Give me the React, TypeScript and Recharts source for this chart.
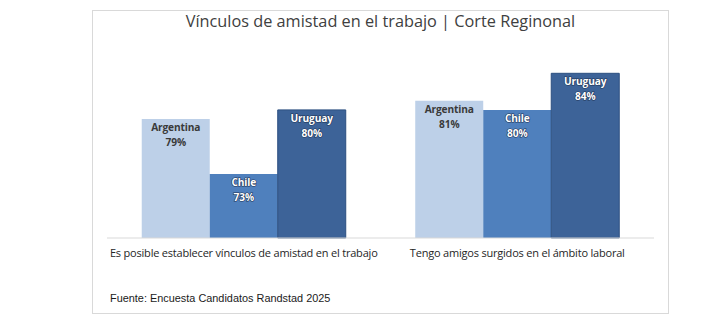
import React from "react";
import { BarChart, Bar, XAxis, YAxis, LabelList } from "recharts";

const categories = [
  "Es posible establecer vínculos de amistad en el trabajo",
  "Tengo amigos surgidos en el ámbito laboral",
];
const argentina = [0.79, 0.81];
const chile = [0.73, 0.8];
const uruguay = [0.8, 0.84];
const seriesNames = ["Argentina", "Chile", "Uruguay"];
const title = "Vínculos de amistad en el trabajo | Corte Reginonal";
const source = "Fuente: Encuesta Candidatos Randstad 2025";

const data = categories.map((c, i) => ({
  category: c,
  argentina: argentina[i],
  chile: chile[i],
  uruguay: uruguay[i],
}));

const CategoryTick = (props: any) => {
  const { x, y, payload } = props;
  return (
    <text
      x={x}
      y={y + 11}
      textAnchor="middle"
      fontFamily="'Open Sans', sans-serif"
      fontSize={11}
      fill="#262626"
      letterSpacing={-0.2}
    >
      {payload.value}
    </text>
  );
};

const makeLabel = (name: string, light: boolean) => (props: any) => {
  const { x, y, width, value } = props;
  const cx = x + width / 2;
  const common = {
    textAnchor: "middle" as const,
    fontFamily: "'Open Sans', sans-serif",
    fontWeight: 700,
    fontSize: 10.2,
    fill: light ? "#ffffff" : "#3a3a3a",
    stroke: light ? "#1f3556" : "none",
    strokeWidth: light ? 1.2 : 0,
    paintOrder: "stroke" as any,
    letterSpacing: -0.15,
  };
  return (
    <g>
      <text x={cx} y={y + 12} {...common}>
        {name}
      </text>
      <text x={cx} y={y + 27} {...common}>
        {Math.round(value * 100) + "%"}
      </text>
    </g>
  );
};

export default function App() {
  return (
    <div
      style={{
        position: "absolute",
        left: 0,
        top: 0,
        width: 727,
        height: 321,
        background: "#ffffff",
      }}
    >
      <div
        style={{
          position: "absolute",
          left: 92,
          top: 10,
          width: 577,
          height: 304,
          border: "1px solid #d9d9d9",
          boxSizing: "border-box",
        }}
      />
      <div
        style={{
          position: "absolute",
          left: 92,
          width: 577,
          top: 10,
          textAlign: "center",
          fontFamily: "'Open Sans', sans-serif",
          fontSize: 16.3,
          lineHeight: "22px",
          color: "#404040",
        }}
      >
        {title}
      </div>
      <div
        style={{
          position: "absolute",
          left: 110,
          top: 292,
          fontFamily: "'Liberation Sans', Arial, sans-serif",
          fontSize: 10.9,
          color: "#1a1a1a",
        }}
      >
        {source}
      </div>
      <div style={{ position: "absolute", left: 0, top: 0 }}>
        <BarChart
          width={727}
          height={321}
          data={data}
          margin={{ top: 55, right: 73, bottom: 53, left: 107 }}
          barGap={0}
          barCategoryGap="12.7%"
        >
          <YAxis hide domain={[0.66, 0.86]} />
          <XAxis
            dataKey="category"
            axisLine={{ stroke: "#d9d9d9" }}
            tickLine={false}
            tick={<CategoryTick />}
            interval={0}
          />
          <Bar dataKey="argentina" fill="#bdd0e8" isAnimationActive={false}>
            <LabelList dataKey="argentina" content={makeLabel(seriesNames[0], false)} />
          </Bar>
          <Bar dataKey="chile" fill="#4f80bd" isAnimationActive={false}>
            <LabelList dataKey="chile" content={makeLabel(seriesNames[1], true)} />
          </Bar>
          <Bar
            dataKey="uruguay"
            fill="#3d6398"
            stroke="#2c4f80"
            strokeWidth={1}
            isAnimationActive={false}
          >
            <LabelList dataKey="uruguay" content={makeLabel(seriesNames[2], true)} />
          </Bar>
        </BarChart>
      </div>
    </div>
  );
}
